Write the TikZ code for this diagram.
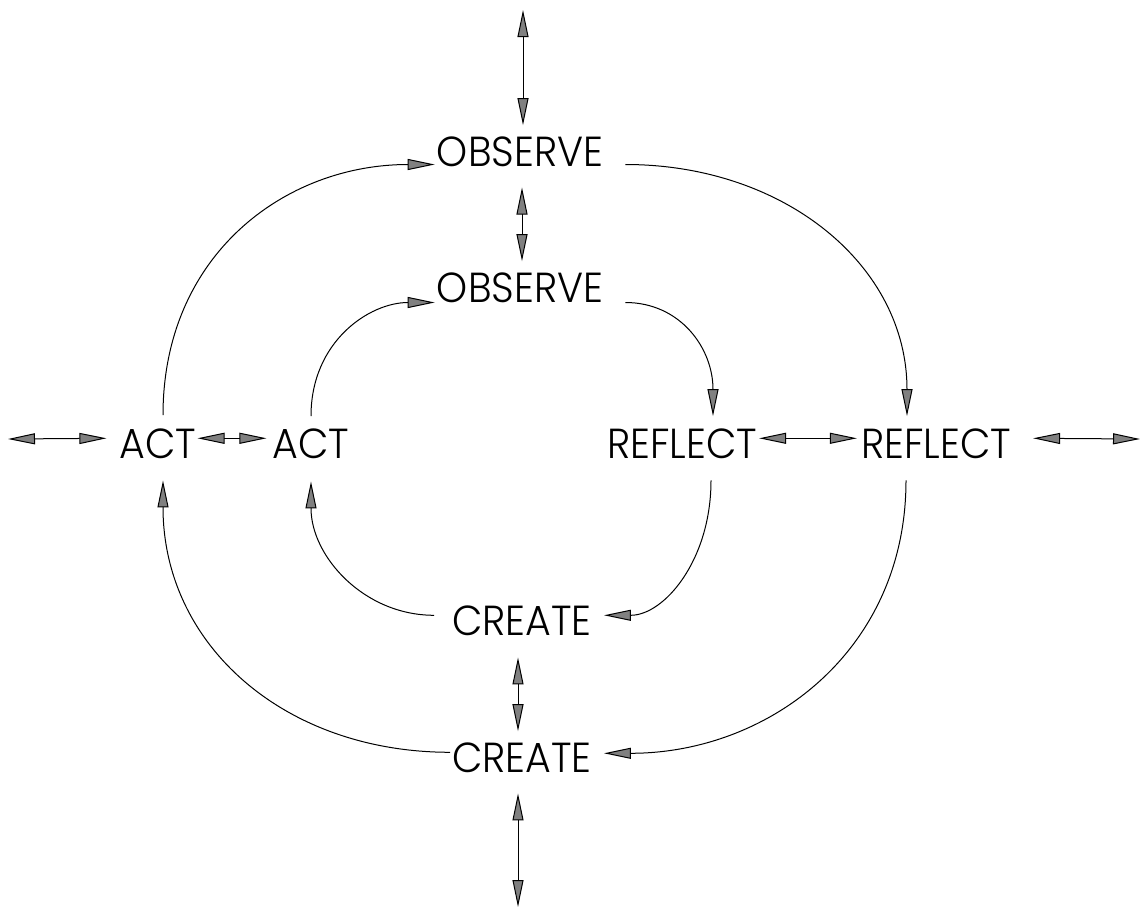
\documentclass[tikz,border=0pt]{standalone}
\usepackage{fontspec}
\setmainfont{Poppins}[UprightFont={* Light}]
\usetikzlibrary{arrows.meta,calc}
\definecolor{tipgray}{HTML}{808080}
\begin{document}
\begin{tikzpicture}[x=1pt,y=-1pt,
  lbl/.style={inner sep=0pt, anchor=base, font=\fontsize{42}{50}\selectfont, xscale=0.94},
  arr/.style={-{Triangle[length=27pt,width=11pt,fill=tipgray]}, line width=1pt},
  darr/.style={{Triangle[length=27pt,width=11pt,fill=tipgray]}-{Triangle[length=27pt,width=11pt,fill=tipgray]}, line width=1pt}]
\useasboundingbox (0,0) rectangle (1145,911);
% labels
\node[lbl] (obsO) at (520,166) {OBSERVE};
\node[lbl] (obsI) at (520,302) {OBSERVE};
\node[lbl] (actO) at (158,458) {ACT};
\node[lbl] (actI) at (311,458) {ACT};
\node[lbl] (refI) at (682,458) {REFLECT};
\node[lbl] (refO) at (936,458) {REFLECT};
\node[lbl] (creI) at (522,635) {CREATE};
\node[lbl] (creO) at (522,772) {CREATE};
% free ends
\coordinate (topEnd) at (523,10);
\coordinate (botEnd) at (518,907);
\coordinate (leftEnd) at (8,439);
\coordinate (rightEnd) at (1140,439);
% vertical double arrows
\draw[darr] (topEnd) -- ([xshift=3pt,yshift=11pt]obsO.north);
\draw[darr] ([xshift=2pt,yshift=-21pt]obsO.south) -- ([xshift=2pt,yshift=11pt]obsI.north);
\draw[darr] ([xshift=-4pt,yshift=-22pt]creI.south) -- ([xshift=-4pt,yshift=11pt]creO.north);
\draw[darr] ([xshift=-4pt,yshift=-21pt]creO.south) -- (botEnd);
% horizontal double arrows
\draw[darr] (leftEnd) -- ([xshift=-13pt,yshift=5pt]actO.west);
\draw[darr] ([xshift=1pt,yshift=5pt]actO.east) -- ([xshift=-6pt,yshift=5pt]actI.west);
\draw[darr] ([xshift=2pt,yshift=5pt]refI.east) -- ([xshift=-4pt,yshift=5pt]refO.west);
\draw[darr] ([xshift=22pt,yshift=5pt]refO.east) -- (rightEnd);
% outer loop
\draw[arr] ([xshift=5pt,yshift=13pt]actO.north) .. controls +(0,-160) and +(-150,0) .. ([xshift=-2pt,yshift=2pt]obsO.south west);
\draw[arr] ([xshift=22pt,yshift=2pt]obsO.south east) .. controls +(160,0) and +(0,-150) .. ([xshift=-29pt,yshift=12pt]refO.north);
\draw[arr] ([xshift=-30pt,yshift=-22pt]refO.south) .. controls +(0,170) and +(165,0) .. ([xshift=12pt,yshift=4pt]creO.east);
\draw[arr] ([xshift=-2pt,yshift=5pt]creO.west) .. controls +(-165,0) and +(0,165) .. ([xshift=5pt,yshift=-22pt]actO.south);
% inner loop
\draw[arr] ([yshift=12pt]actI.north) .. controls +(0,-75) and +(-65,0) .. ([xshift=-2pt]obsI.south west);
\draw[arr] ([xshift=22pt]obsI.south east) .. controls +(55,0) and +(0,-68) .. ([xshift=31pt,yshift=12pt]refI.north);
\draw[arr] ([xshift=29pt,yshift=-22pt]refI.south) .. controls +(0,80) and +(60,0) .. ([xshift=12pt,yshift=5pt]creI.east);
\draw[arr] ([xshift=-18pt,yshift=5pt]creI.west) .. controls +(-70,0) and +(0,75) .. ([yshift=-23pt]actI.south);
\end{tikzpicture}
\end{document}
